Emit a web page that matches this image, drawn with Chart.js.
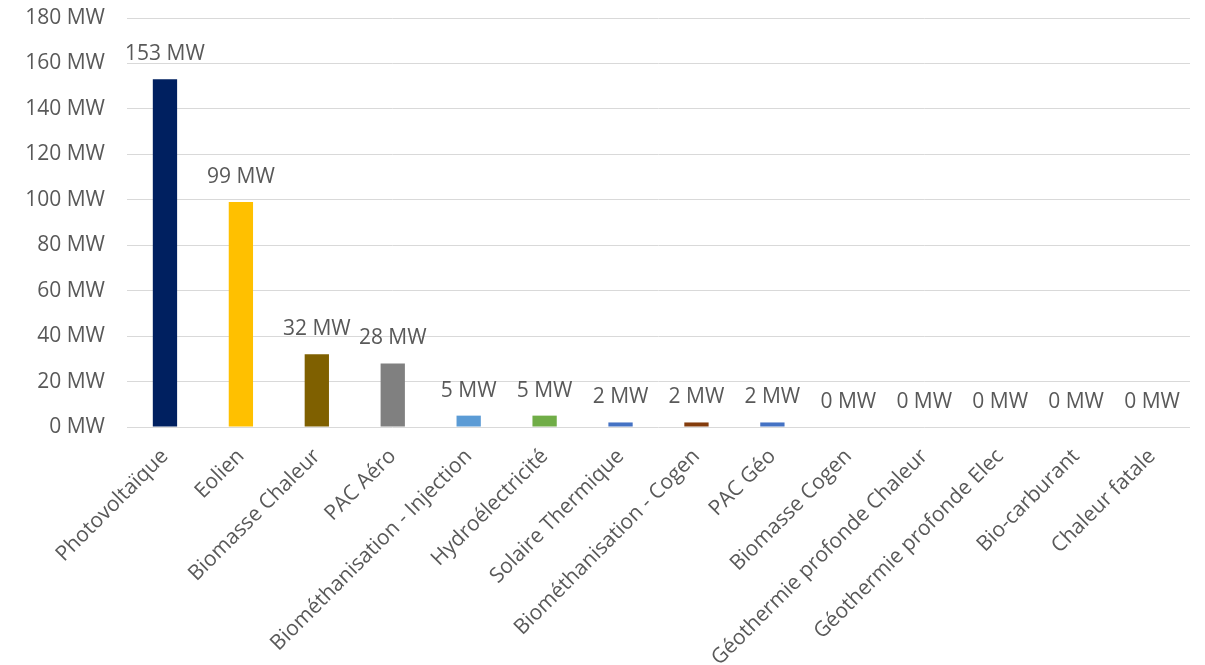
<!DOCTYPE html>
<html lang="fr">

<head>
    <meta charset="UTF-8">
    <title>Puissance installée par filière</title>
    <script src="https://cdn.jsdelivr.net/npm/chart.js"></script>
    <style>
        html, body { margin: 0; padding: 0; background: #fff; }
        #wrap { width: 1205px; height: 665px; }
    </style>
</head>

<body>
    <div id="wrap"><canvas id="mwChart"></canvas></div>

    <script>
        const filieres = [
            'Photovoltaïque', 'Eolien', 'Biomasse Chaleur', 'PAC Aéro',
            'Biométhanisation - Injection', 'Hydroélectricité', 'Solaire Thermique',
            'Biométhanisation - Cogen', 'PAC Géo', 'Biomasse Cogen',
            'Géothermie profonde Chaleur', 'Géothermie profonde Elec',
            'Bio-carburant', 'Chaleur fatale'
        ];
        const puissanceMW = [153, 99, 32, 28, 5, 5, 2, 2, 2, 0, 0, 0, 0, 0];
        const couleurs = [
            '#002060', '#FFC000', '#7F6000', '#808080', '#5B9BD5', '#70AD47',
            '#4472C4', '#843C0C', '#4472C4', '#A5A5A5', '#264478', '#9E480E',
            '#636363', '#997300'
        ];
        const yTicks = [0, 20, 40, 60, 80, 100, 120, 140, 160, 180];

        const textColor = '#595959';
        const fontFamily = '"Open Sans", "DejaVu Sans", sans-serif';
        const fontSize = 21;

        // writes "xx MW" above each bar
        const barLabels = {
            id: 'barLabels',
            afterDatasetsDraw(chart) {
                const ctx = chart.ctx;
                const meta = chart.getDatasetMeta(0);
                ctx.save();
                ctx.font = fontSize + 'px ' + fontFamily;
                ctx.fillStyle = textColor;
                ctx.textAlign = 'center';
                ctx.textBaseline = 'middle';
                meta.data.forEach((bar, i) => {
                    ctx.fillText(puissanceMW[i] + ' MW', bar.x, bar.y - 25);
                });
                ctx.restore();
            }
        };

        // keep the scales from reserving extra room around the plot
        function noScalePadding(scale) {
            scale.paddingTop = 0;
            scale.paddingBottom = 0;
            scale.paddingLeft = 0;
            scale.paddingRight = 0;
        }

        new Chart(document.getElementById('mwChart'), {
            type: 'bar',
            data: {
                labels: filieres,
                datasets: [{
                    data: puissanceMW,
                    backgroundColor: couleurs,
                    barPercentage: 0.32,
                    categoryPercentage: 1
                }]
            },
            options: {
                responsive: true,
                maintainAspectRatio: false,
                animation: false,
                layout: { padding: { top: 18, right: 15, left: 0, bottom: 0 } },
                plugins: {
                    legend: { display: false },
                    tooltip: { enabled: false }
                },
                scales: {
                    x: {
                        grid: { display: false, drawTicks: false },
                        border: { display: false },
                        ticks: {
                            color: textColor,
                            font: { family: fontFamily, size: fontSize },
                            minRotation: 45,
                            maxRotation: 45,
                            autoSkip: false,
                            padding: 17
                        },
                        afterFit(scale) {
                            scale.height = 238;
                            noScalePadding(scale);
                        }
                    },
                    y: {
                        min: 0,
                        max: 180,
                        afterBuildTicks(scale) {
                            scale.ticks = yTicks.map(v => ({ value: v }));
                        },
                        grid: { color: '#D9D9D9', lineWidth: 1, drawTicks: false },
                        border: { display: false },
                        ticks: {
                            color: textColor,
                            font: { family: fontFamily, size: fontSize },
                            padding: 22,
                            callback: v => v + ' MW'
                        },
                        afterFit(scale) {
                            scale.width = 127;
                            noScalePadding(scale);
                        }
                    }
                }
            },
            plugins: [barLabels]
        });
    </script>
</body>

</html>
